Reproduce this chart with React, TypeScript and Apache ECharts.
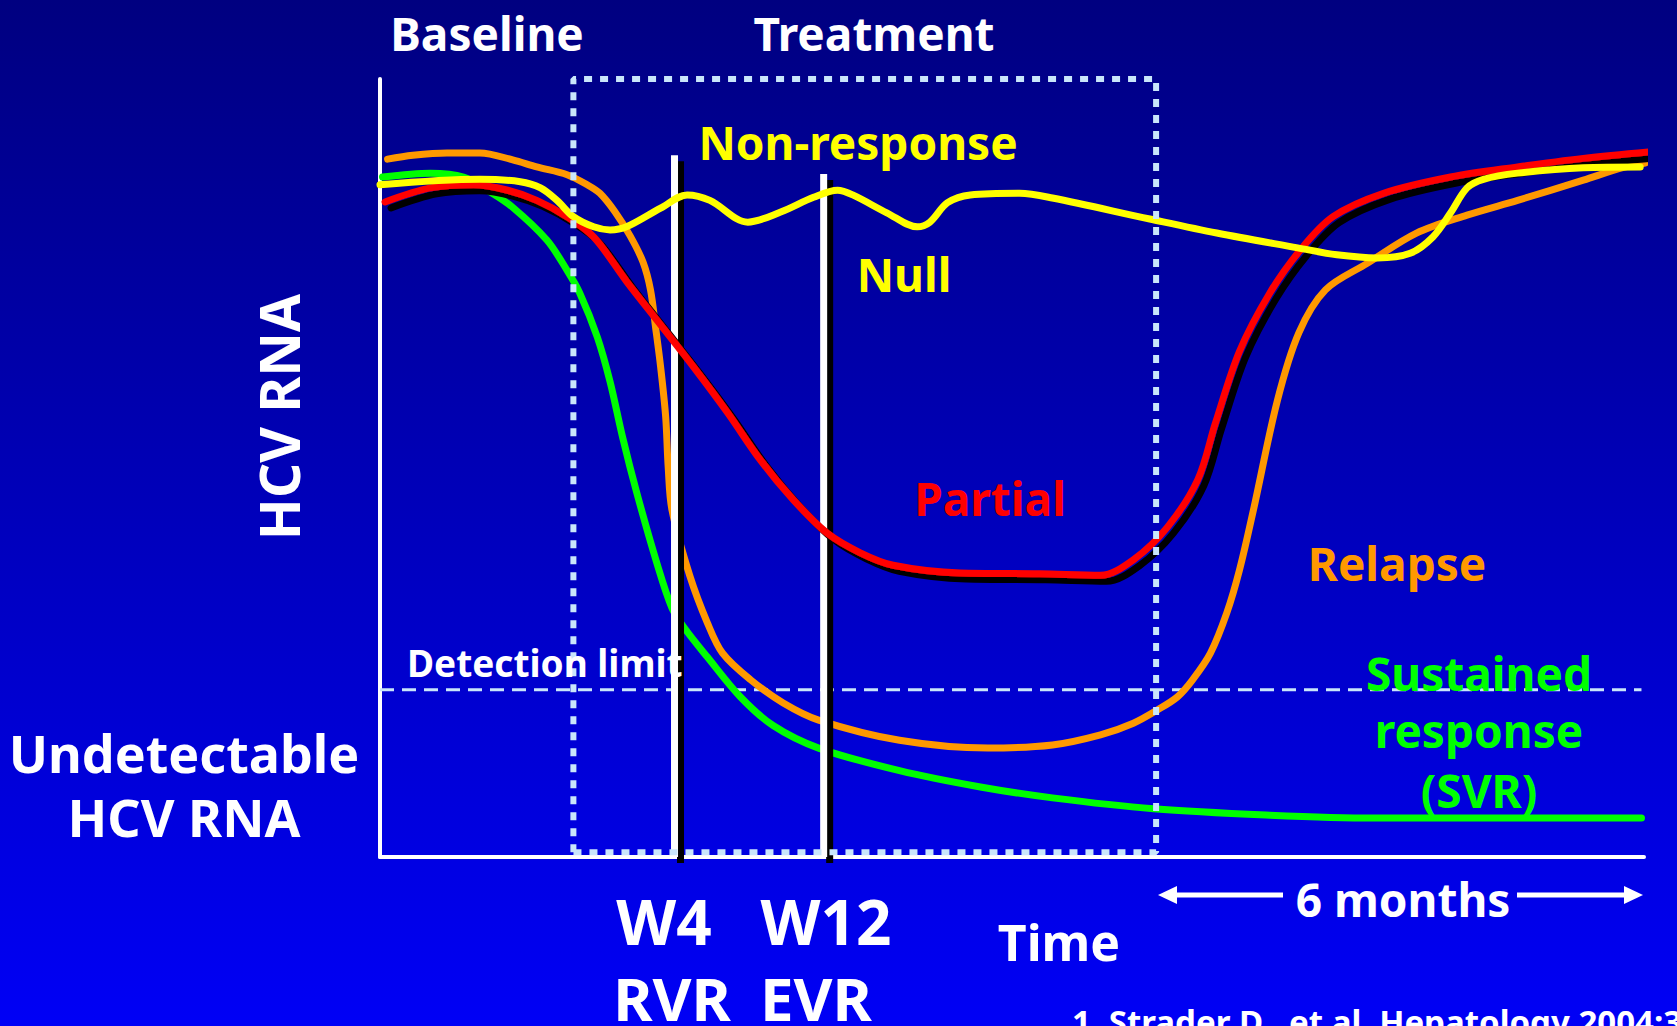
import React, { useEffect, useRef } from "react";
import * as echarts from "echarts";

const W = 1677;
const H = 1026;

// Schematic viral-load courses, arbitrary units: time 0–100, HCV RNA 0–100
const sustainedResponse: [number, number][] = [
  [0.2, 87.4], [4.0, 87.9], [6.6, 87.4], [8.7, 85.5], [10.5, 83.5], [13.2, 79.3],
  [14.8, 75.4], [15.8, 72.5], [17.2, 66.8], [18.2, 61.1], [19.2, 53.9], [20.3, 46.9],
  [21.9, 37.8], [23.1, 32.0], [24.1, 29.4], [25.9, 25.7], [28.5, 20.6], [31.1, 16.9],
  [34.7, 14.0], [41.1, 11.1], [47.5, 9.0], [53.2, 7.6], [61.2, 6.2], [70.1, 5.4],
  [78.6, 5.0], [99.8, 5.0],
];

const relapse: [number, number][] = [
  [0.6, 89.7], [2.6, 90.2], [5.3, 90.5], [7.9, 90.5], [10.5, 89.6], [12.4, 88.7],
  [14.8, 87.7], [16.4, 86.4], [17.4, 85.3], [18.6, 82.9], [19.8, 79.8], [20.8, 76.5],
  [21.4, 72.9], [21.8, 68.1], [22.2, 63.0], [22.6, 56.6], [22.8, 50.1], [23.1, 44.6],
  [24.5, 36.2], [25.9, 30.1], [27.1, 26.2], [29.3, 22.8], [31.9, 19.8], [34.7, 17.6],
  [41.1, 15.0], [48.1, 14.0], [53.2, 14.4], [57.0, 15.7], [59.6, 17.2], [61.5, 18.9],
  [63.1, 20.6], [64.3, 22.8], [65.7, 26.2], [67.0, 31.4], [68.0, 36.9], [69.1, 44.6],
  [71.0, 58.7], [72.7, 67.4], [74.8, 72.9], [78.1, 76.3], [82.0, 80.2], [86.0, 82.5],
  [90.0, 84.4], [95.2, 87.0], [98.3, 88.6], [100.1, 89.2],
];

const partialResponse: [number, number][] = [
  [0.4, 84.2], [4.0, 86.0], [7.4, 86.4], [10.1, 85.7], [12.4, 84.4], [14.8, 82.3],
  [16.9, 79.7], [19.5, 74.0], [22.2, 68.4], [24.8, 63.0], [27.5, 57.1], [30.1, 51.0],
  [32.7, 45.9], [35.4, 41.6], [38.0, 39.1], [40.6, 37.5], [45.9, 36.5], [52.2, 36.4],
  [57.0, 36.2], [59.6, 38.2], [62.3, 42.4], [64.7, 48.5], [66.1, 55.8], [68.0, 65.0],
  [70.4, 72.5], [72.8, 78.0], [75.4, 82.3], [79.4, 85.3], [84.7, 87.4], [90.0, 88.7],
  [95.2, 89.8], [102.3, 90.9],
];

const nullResponse: [number, number][] = [
  [0, 86.4], [7.9, 87.1], [11.1, 86.8], [12.7, 86.0], [14.0, 84.4], [15.3, 82.3],
  [16.9, 81.0], [18.2, 80.6], [19.5, 81.0], [22.2, 83.4], [24.3, 85.1], [26.1, 84.4],
  [29.1, 81.6], [31.7, 82.9], [34.3, 84.8], [36.2, 85.7], [37.4, 85.1], [40.1, 82.8],
  [42.5, 81.0], [43.5, 81.6], [44.9, 84.1], [46.7, 85.1], [50.6, 85.3], [53.2, 84.7],
  [60.9, 82.0], [66.2, 80.2], [72.6, 78.3], [75.7, 77.4], [78.9, 77.0], [81.5, 77.6],
  [83.3, 79.7], [84.7, 82.8], [86.0, 86.0], [87.3, 87.1], [90.0, 87.9], [95.2, 88.6],
  [99.7, 88.7],
];

const detectionLimit = 21.5;
const timeEnd = 99.8;
const treatmentStart = 15.3;
const treatmentEnd = 61.4;
const treatmentBottom = 0.6;
const treatmentTop = 100;

const weekMarkers = [
  { label: "W4", milestone: "RVR", time: 23.3, top: 90.2 },
  { label: "W12", milestone: "EVR", time: 35.1, top: 87.8 },
];

const FONT = '"Noto Sans", "DejaVu Sans", sans-serif';
const WHITE = "#ffffff";
const YELLOW = "#ffff00";
const ORANGE = "#ff9900";
const GREEN = "#00ff00";
const RED = "#ff0000";
const PALE = "#c9e6fb";

// Plot frame: 0–100 on both axes
const GRID = { left: 380, right: 33, top: 79, bottom: 169 };
const PLOT_W = W - GRID.left - GRID.right;
const PLOT_H = H - GRID.top - GRID.bottom;
// Drop shadow of the week markers, 6 px right and down, in axis units
const SHADOW_DX = (6 / PLOT_W) * 100;
const SHADOW_DY = (6 / PLOT_H) * 100;

const dropShadow = {
  textShadowColor: "#000000",
  textShadowBlur: 0,
  textShadowOffsetX: 3,
  textShadowOffsetY: 3,
};

function label(
  text: string,
  x: number,
  y: number,
  size: number,
  fill: string,
  extra: Record<string, unknown> = {},
  rotation = 0
) {
  return {
    type: "text",
    x,
    y,
    rotation,
    z: 100,
    silent: true,
    style: {
      text,
      fill,
      fontSize: size,
      fontWeight: "bold",
      fontFamily: FONT,
      align: "center",
      verticalAlign: "middle",
      ...extra,
    },
  };
}

function curve(name: string, data: [number, number][], color: string, z: number, extra = {}) {
  return {
    type: "line",
    name,
    data,
    z,
    smooth: 0.33,
    symbol: "none",
    clip: false,
    silent: true,
    lineStyle: { color, width: 7, cap: "round", join: "round", ...extra },
  };
}

function segment(name: string, data: [number, number][], color: string, z: number) {
  return {
    type: "line",
    name,
    data,
    z,
    symbol: "none",
    clip: false,
    silent: true,
    lineStyle: { color, width: 7, cap: "butt" },
  };
}

export default function App() {
  const ref = useRef<HTMLDivElement>(null);

  useEffect(() => {
    if (!ref.current) return;
    const chart = echarts.init(ref.current, null, { renderer: "svg", width: W, height: H });

    const markerSeries = weekMarkers.flatMap((m) => [
      segment(
        m.label + " shadow",
        [
          [m.time + SHADOW_DX, -SHADOW_DY],
          [m.time + SHADOW_DX, m.top - SHADOW_DY],
        ],
        "#000000",
        3
      ),
      segment(
        m.label,
        [
          [m.time, 0],
          [m.time, m.top],
        ],
        WHITE,
        3
      ),
    ]);

    const arrowY = 895;

    chart.setOption({
      animation: false,
      backgroundColor: "transparent",
      grid: { ...GRID, containLabel: false },
      xAxis: {
        type: "value",
        min: 0,
        max: 100,
        axisLine: { show: true, lineStyle: { color: WHITE, width: 4 } },
        axisTick: { show: false },
        axisLabel: { show: false },
        splitLine: { show: false },
      },
      yAxis: {
        type: "value",
        min: 0,
        max: 100,
        axisLine: { show: true, lineStyle: { color: WHITE, width: 4 } },
        axisTick: { show: false },
        axisLabel: { show: false },
        splitLine: { show: false },
      },
      series: [
        {
          type: "line",
          name: "Detection limit",
          data: [
            [0, detectionLimit],
            [timeEnd, detectionLimit],
          ],
          z: 1,
          symbol: "none",
          silent: true,
          lineStyle: { color: PALE, width: 3, type: [14, 8] },
        },
        curve("Sustained response", sustainedResponse, GREEN, 2),
        curve("Relapse", relapse, ORANGE, 2),
        ...markerSeries,
        curve("Partial", partialResponse, RED, 4, {
          shadowColor: "#000000",
          shadowBlur: 0,
          shadowOffsetX: 6,
          shadowOffsetY: 6,
        }),
        curve("Null", nullResponse, YELLOW, 4),
        {
          type: "line",
          name: "Treatment",
          data: [
            [treatmentStart, treatmentBottom],
            [treatmentStart, treatmentTop],
            [treatmentEnd, treatmentTop],
            [treatmentEnd, treatmentBottom],
            [treatmentStart, treatmentBottom],
          ],
          z: 5,
          symbol: "none",
          clip: false,
          silent: true,
          lineStyle: { color: PALE, width: 6, type: [8, 8], cap: "butt" },
        },
      ],
      graphic: [
        label("Baseline", 487, 33, 46, WHITE),
        label("Treatment", 874, 33, 46, WHITE),
        label("Non-response", 858, 142, 46, YELLOW),
        label("Null", 904, 274, 46, YELLOW, dropShadow),
        label("Partial", 990, 498, 46, RED, dropShadow),
        label("Relapse", 1397, 563, 46, ORANGE),
        label("Sustained", 1479, 673, 46, GREEN),
        label("response", 1479, 730, 46, GREEN),
        label("(SVR)", 1479, 790, 46, GREEN),
        label("Detection limit", 407, 662, 37, WHITE, { align: "left" }),
        label("Undetectable", 184, 752, 52, WHITE),
        label("HCV RNA", 184, 816, 52, WHITE),
        label("HCV RNA", 278, 417, 55, WHITE, {}, Math.PI / 2),
        label(weekMarkers[0].label, 664, 921, 62, WHITE, dropShadow),
        label(weekMarkers[1].label, 826, 921, 62, WHITE, dropShadow),
        label(weekMarkers[0].milestone, 672, 998, 60, WHITE, dropShadow),
        label(weekMarkers[1].milestone, 816, 998, 60, WHITE, dropShadow),
        label("Time", 1059, 942, 50, WHITE),
        label("6 months", 1403, 899, 46, WHITE),
        label("1. Strader D., et al. Hepatology 2004;39", 1072, 1021, 33, WHITE, { align: "left" }),
        {
          type: "line",
          silent: true,
          shape: { x1: 1174, y1: arrowY, x2: 1283, y2: arrowY },
          style: { stroke: WHITE, lineWidth: 5 },
        },
        {
          type: "polygon",
          silent: true,
          shape: { points: [[1158, arrowY], [1177, arrowY - 9], [1177, arrowY + 9]] },
          style: { fill: WHITE },
        },
        {
          type: "line",
          silent: true,
          shape: { x1: 1517, y1: arrowY, x2: 1627, y2: arrowY },
          style: { stroke: WHITE, lineWidth: 5 },
        },
        {
          type: "polygon",
          silent: true,
          shape: { points: [[1643, arrowY], [1624, arrowY - 9], [1624, arrowY + 9]] },
          style: { fill: WHITE },
        },
      ],
    });

    return () => chart.dispose();
  }, []);

  return (
    <div
      ref={ref}
      style={{
        position: "fixed",
        left: 0,
        top: 0,
        width: W,
        height: H,
        background: "linear-gradient(to bottom, #000080 0%, #0000f6 100%)",
      }}
    />
  );
}
